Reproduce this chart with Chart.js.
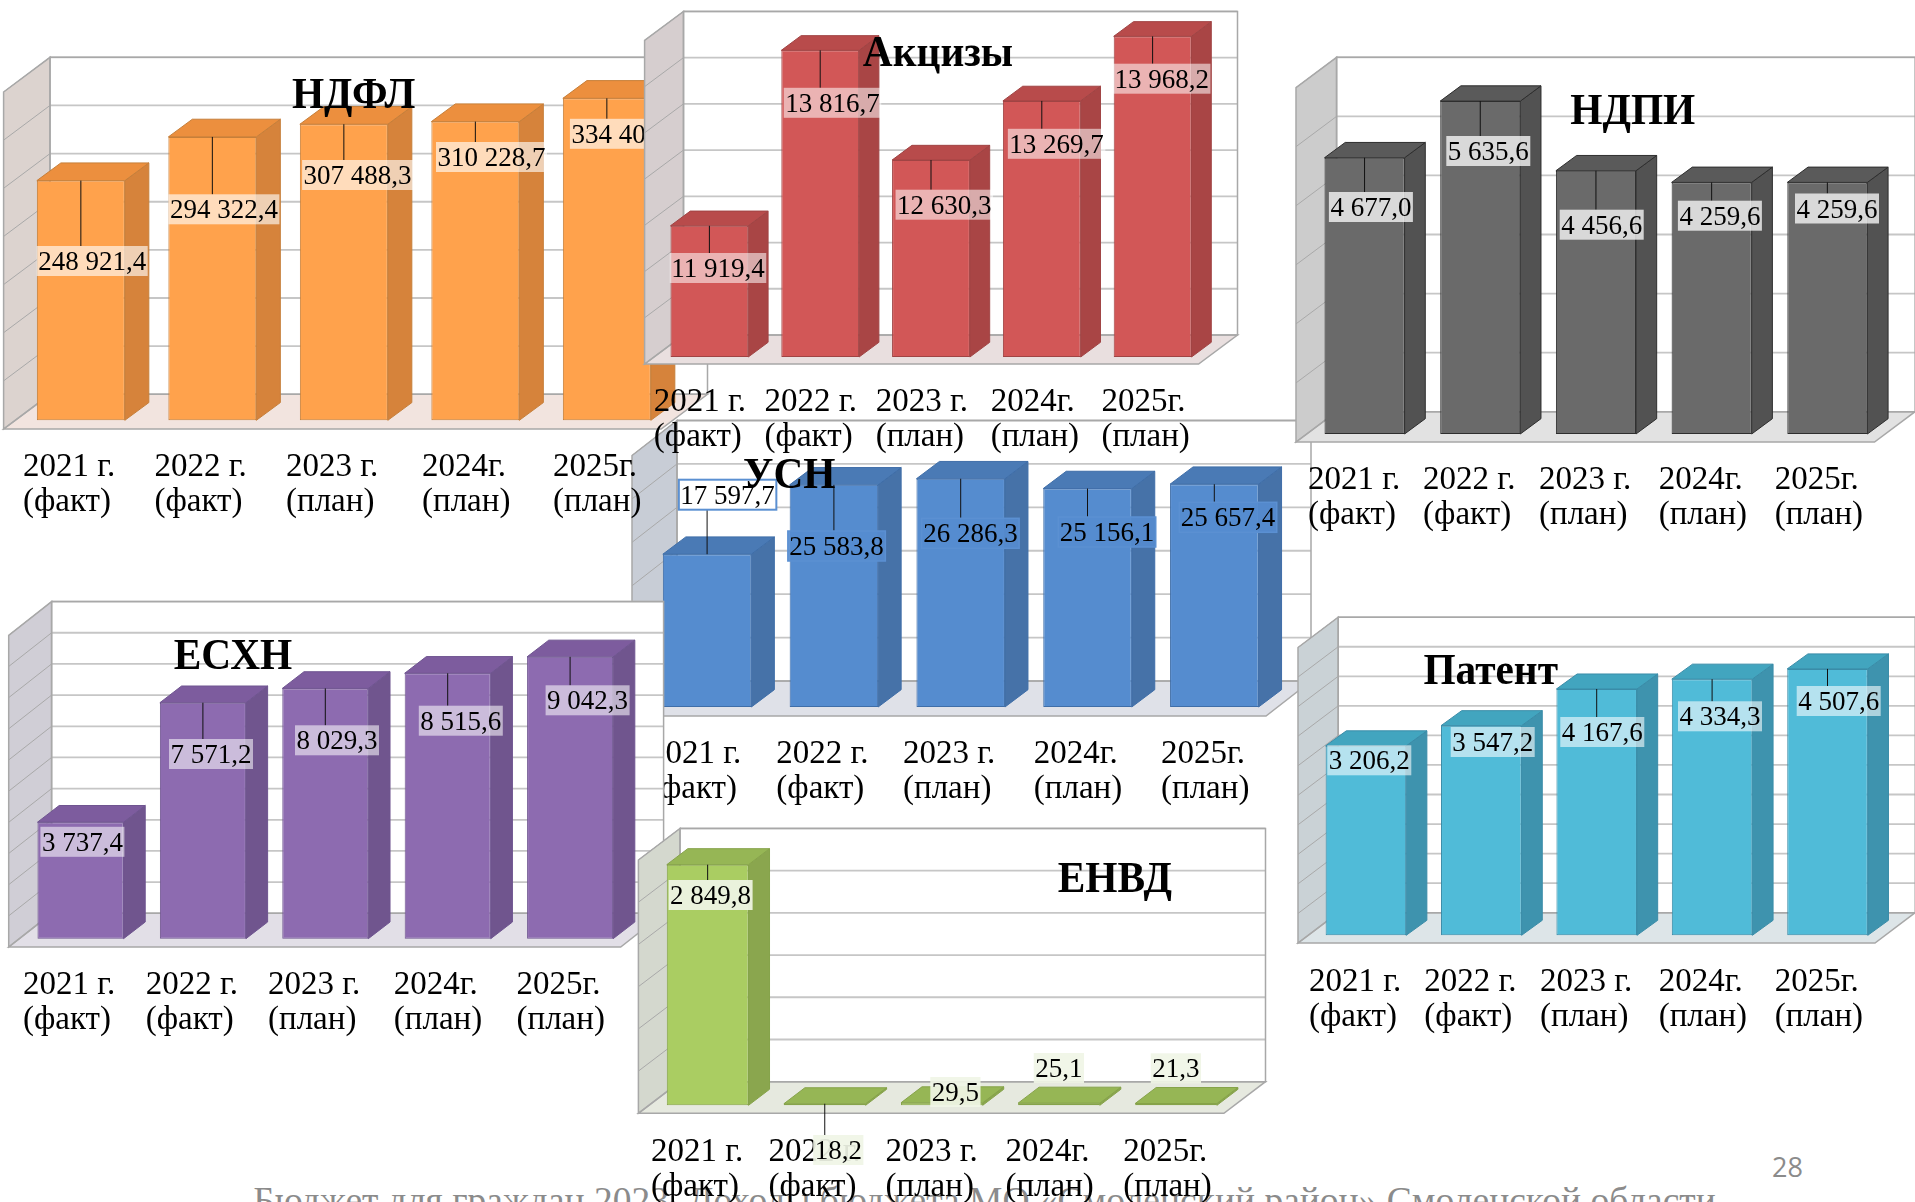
<!DOCTYPE html>
<html lang="ru"><head><meta charset="utf-8">
<script src="https://cdn.jsdelivr.net/npm/chart.js@4"></script>
<style>
html,body{margin:0;padding:0;background:#fff;width:1915px;height:1202px;overflow:hidden;position:relative}
canvas{position:absolute;left:0;top:0}
#foot{position:absolute;left:27px;width:1915px;top:1179px;text-align:center;font:37.5px "Liberation Serif",serif;color:#8b8b8b;white-space:nowrap}
#page{position:absolute;left:1772px;top:1148px;font:27px "Open Sans",sans-serif;color:#8b8b8b}
</style></head><body>
<div id="foot">Бюджет для граждан 2023. Доходы бюджета МО «Смоленский район» Смоленской области</div>
<div id="page">28</div>
<script>
const categories=[['2021 г.','(факт)'],['2022 г.','(факт)'],['2023 г.','(план)'],['2024г.','(план)'],['2025г.','(план)']];
const ndflValues=[248921.4,294322.4,307488.3,310228.7,334400.0];
const aktsizyValues=[11919.4,13816.7,12630.3,13269.7,13968.2];
const ndpiValues=[4677.0,5635.6,4456.6,4259.6,4259.6];
const usnValues=[17597.7,25583.8,26286.3,25156.1,25657.4];
const eshnValues=[3737.4,7571.2,8029.3,8515.6,9042.3];
const patentValues=[3206.2,3547.2,4167.6,4334.3,4507.6];
const envdValues=[2849.8,18.2,29.5,25.1,21.3];

const fmt=v=>{const [a,b]=v.toFixed(1).split('.');return a.replace(/\B(?=(\d{3})+$)/g,' ')+','+b;};

// chart layout (page pixels) in drawing order
const panels=[
{title:'УСН',values:usnValues,min:0,max:30000,step:5000,
 area:[643.7,1277.7,446.5,707],barPct:.698,depth:[23,17.3],front:[11.7,9],back:[33.3,26],
 col:['#558ccf','#4672a8','#4a7ab5'],wall:'#c8cdd6',floor:'#dfe1e8',edge:'#3f6ea8',
 titleAt:[789.3,473.3],
 labelAt:[[727.6,494.7],[836.6,546],[970.4,533.3],[1107,532],[1228,517.3]],
 labelBg:['#ffffff','rgba(85,140,207,.9)','rgba(85,140,207,.9)','rgba(85,140,207,.9)','rgba(85,140,207,.9)'],labelBorder:'#5b90d2',
 tickX:[649,776.3,903,1033.8,1161],tickY:754},
{title:'НДФЛ',values:ndflValues,min:0,max:350000,step:50000,
 area:[15.1,672.6,83.3,420.3],barPct:.669,depth:[24,17.7],front:[11.5,8.7],back:[34.9,26],
 col:['#ffa24c','#d6833b','#ec8f3e'],wall:'#dcd3cf',floor:'#f2e4df',edge:'#c67f3a',
 titleAt:[353.6,94],
 labelAt:[[92.2,261],[223.9,209.3],[357.6,175],[491.5,157],[625.4,133.8]],
 labelBg:Array(5).fill('rgba(255,255,255,.62)'),
 tickX:[23,154.5,286,422,553],tickY:467},
{title:'Акцизы',values:aktsizyValues,min:10500,max:14000,step:500,
 area:[654,1208,33.4,357],barPct:.702,depth:[19.8,14.7],front:[9.4,7],back:[29.5,22],
 col:['#d25757','#a94545','#b84b4b'],wall:'#d6cecf',floor:'#e9dfdf',edge:'#a04444',
 titleAt:[938,51.7],
 labelAt:[[718,268],[832.5,102.8],[944.3,204.7],[1056.6,143.8],[1161.7,78.7]],
 labelBg:Array(5).fill('rgba(255,255,255,.55)'),
 tickX:[653.8,764.6,875.7,990.7,1101.4],tickY:402},
{title:'ЕСХН',values:eshnValues,min:0,max:10000,step:1000,
 area:[19.3,631.3,627,938.7],barPct:.703,depth:[21.7,16.7],front:[10.6,8.3],back:[32.3,25.4],
 col:['#8d6bb0','#70558e','#7d5c9e'],wall:'#d0ced6',floor:'#e2dfe7',edge:'#6f5590',
 titleAt:[233,655],
 labelAt:[[82.4,841.8],[211,754],[337,740.3],[460.8,720.7],[587.6,700.3]],
 labelBg:Array(5).fill('rgba(255,255,255,.55)'),
 tickX:[23,145.7,268,393.8,516.5],tickY:985.3},
{title:'ЕНВД',values:envdValues,min:0,max:3000,step:500,
 area:[649.1,1234.6,852,1105.3],barPct:.698,depth:[21,16],front:[10.7,8],back:[30.9,23.6],
 col:['#aacd62','#8aa64e','#96b655'],wall:'#d4d8ce',floor:'#e6e9df',edge:'#86a34a',
 titleAt:[1114.9,878],noLeader:[2,3,4],
 labelAt:[[710.6,895],[838.3,1150],[955.4,1092],[1058.9,1068],[1175.9,1068.3]],
 labelBg:Array(5).fill('rgba(240,245,230,.92)'),
 tickX:[651,768.5,885.5,1005.4,1123.3],tickY:1152},
{title:'НДПИ',values:ndpiValues,min:0,max:6000,step:1000,
 area:[1306.7,1885.2,79.6,434],barPct:.692,depth:[20.7,15.3],front:[10.7,8],back:[29.9,22.3],
 col:['#6a6a6a','#525252','#5a5a5a'],wall:'#cccccc',floor:'#e2e2e2',edge:'#2e2e2e',
 titleAt:[1632.8,109.7],
 labelAt:[[1370.9,207],[1488.3,151],[1601.7,224.7],[1719.9,215.7],[1837,208.5]],
 labelBg:Array(5).fill('rgba(255,255,255,.75)'),
 tickX:[1307.9,1423.1,1539,1658.7,1774.7],tickY:480.3},
{title:'Патент',values:patentValues,min:0,max:5000,step:500,
 area:[1308.2,1885.2,639.8,935.3],barPct:.698,depth:[20.7,15],front:[10.2,7.7],back:[30,22.6],
 col:['#50bbd8','#3e93ae','#42a5bf'],wall:'#cad2d6',floor:'#dde5e8',edge:'#3a8ca8',
 titleAt:[1490.7,669.5],
 labelAt:[[1369.3,760.3],[1492.7,742],[1602.3,732],[1720,716.3],[1838.7,701]],
 labelBg:Array(5).fill('rgba(255,255,255,.58)'),
 tickX:[1309,1424.3,1540,1658.7,1774.7],tickY:982}
];

const SERIF='"Liberation Serif"';
function poly(c,pts,fill,stroke,lw){c.beginPath();pts.forEach((p,i)=>i?c.lineTo(p[0],p[1]):c.moveTo(p[0],p[1]));c.closePath();
 if(fill){c.fillStyle=fill;c.fill();} if(stroke){c.strokeStyle=stroke;c.lineWidth=lw||1;c.stroke();}}

const depth3d={id:'depth3d',
 beforeDraw(chart){ // place the axis labels where the original has them
  const p=chart.options.plugins.depth3d.panel, x=chart.scales.x;
  x.getLabelItems(chart.chartArea).forEach((it,i)=>{it.options.translation=[p.tickX[i],p.tickY-it.textOffset];});
 },
 beforeDatasetsDraw(chart){
  const p=chart.options.plugins.depth3d.panel,c=chart.ctx,a=chart.chartArea,y=chart.scales.y;
  const [fx,fy]=p.front,[bx,by]=p.back;
  const L=a.left,R=a.right,B=a.bottom,T=a.top;
  const line='#a8a8a8',grid='#c6c6c6';
  c.save();
  poly(c,[[L+bx,T-by],[R+bx,T-by],[R+bx,B-by],[L+bx,B-by]],'#ffffff');
  poly(c,[[L-fx,T+fy],[L+bx,T-by],[L+bx,B-by],[L-fx,B+fy]],p.wall);
  poly(c,[[L-fx,B+fy],[L+bx,B-by],[R+bx,B-by],[R-fx,B+fy]],p.floor);
  y.ticks.forEach(t=>{ if(t.value===p.min) return; const v=y.getPixelForValue(t.value);
    c.strokeStyle=grid;c.lineWidth=1.8;
    c.beginPath();c.moveTo(L+bx,v-by);c.lineTo(R+bx,v-by);c.stroke();
    c.strokeStyle='#a9a9a9';c.lineWidth=1;
    c.beginPath();c.moveTo(L-fx,v+fy);c.lineTo(L+bx,v-by);c.stroke();
  });
  poly(c,[[L+bx,T-by],[R+bx,T-by],[R+bx,B-by],[L+bx,B-by]],null,line,1.5);
  poly(c,[[L-fx,T+fy],[L+bx,T-by],[L+bx,B-by],[L-fx,B+fy]],null,line,1.5);
  poly(c,[[L-fx,B+fy],[L+bx,B-by],[R+bx,B-by],[R-fx,B+fy]],null,line,1.5);
  // depth faces of the bars, taken from the bar elements
  const [dx,dy]=p.depth;
  chart.getDatasetMeta(0).data.forEach(b=>{
    const l=b.x-b.width/2,r=b.x+b.width/2,t=b.y,bt=b.base;
    poly(c,[[r,t],[r+dx,t-dy],[r+dx,bt-dy],[r,bt]],p.col[1],p.edge,1);
    poly(c,[[l,t],[l+dx,t-dy],[r+dx,t-dy],[r,t]],p.col[2],p.edge,1);
  });
  c.restore();
 },
 afterDatasetsDraw(chart){
  const p=chart.options.plugins.depth3d.panel,c=chart.ctx;
  c.save();
  c.font='27px '+SERIF;c.textAlign='center';c.textBaseline='middle';
  chart.getDatasetMeta(0).data.forEach((b,i)=>{
    const [lx,ly]=p.labelAt[i],H=30,text=fmt(p.values[i]);
    const W=c.measureText(text).width+3;
    const top=ly-H/2,bot=ly+H/2;
    const gap=top>b.y?top-b.y:b.y-bot;
    if(gap>8&&!(p.noLeader||[]).includes(i)){
      c.strokeStyle='#111';c.lineWidth=1;
      c.beginPath();c.moveTo(b.x,b.y);c.lineTo(b.x,top>b.y?top:bot);c.stroke();
    }
    c.fillStyle=p.labelBg[i];c.fillRect(lx-W/2,top,W,H);
    if(p.labelBorder){c.strokeStyle=p.labelBorder;c.lineWidth=i===0?2:1.5;c.strokeRect(lx-W/2,top,W,H);}
    c.fillStyle='#000';c.fillText(text,lx,ly+2);
  });
  c.font='bold 44px '+SERIF;c.fillStyle='#000';
  c.translate(p.titleAt[0],p.titleAt[1]+3);c.scale(.94,1);
  c.fillText(p.title,0,0);
  c.restore();
 }
};

panels.forEach(p=>{
 const cv=document.createElement('canvas');cv.width=1915;cv.height=1202;document.body.appendChild(cv);
 new Chart(cv,{type:'bar',plugins:[depth3d],
  data:{labels:categories,datasets:[{label:p.title,data:p.values,base:p.min,backgroundColor:p.col[0],borderColor:p.edge,borderWidth:1,borderSkipped:false,
   categoryPercentage:1,barPercentage:p.barPct,clip:false}]},
  options:{responsive:false,devicePixelRatio:1,animation:false,
   layout:{autoPadding:false,padding:{left:p.area[0],right:1915-p.area[1],top:p.area[2],bottom:0}},
   plugins:{legend:{display:false},tooltip:{enabled:false},title:{display:false},depth3d:{panel:p}},
   scales:{
    x:{grid:{display:false},border:{display:false},
       afterFit(s){s.height=1202-p.area[3];s.paddingLeft=0;s.paddingRight=0;},
       ticks:{autoSkip:false,maxRotation:0,minRotation:0,align:'start',color:'#000',font:{family:SERIF,size:33,lineHeight:1.06}}},
    y:{display:false,min:p.min,max:p.max,ticks:{stepSize:p.step}}
   }}});
});
</script></body></html>
